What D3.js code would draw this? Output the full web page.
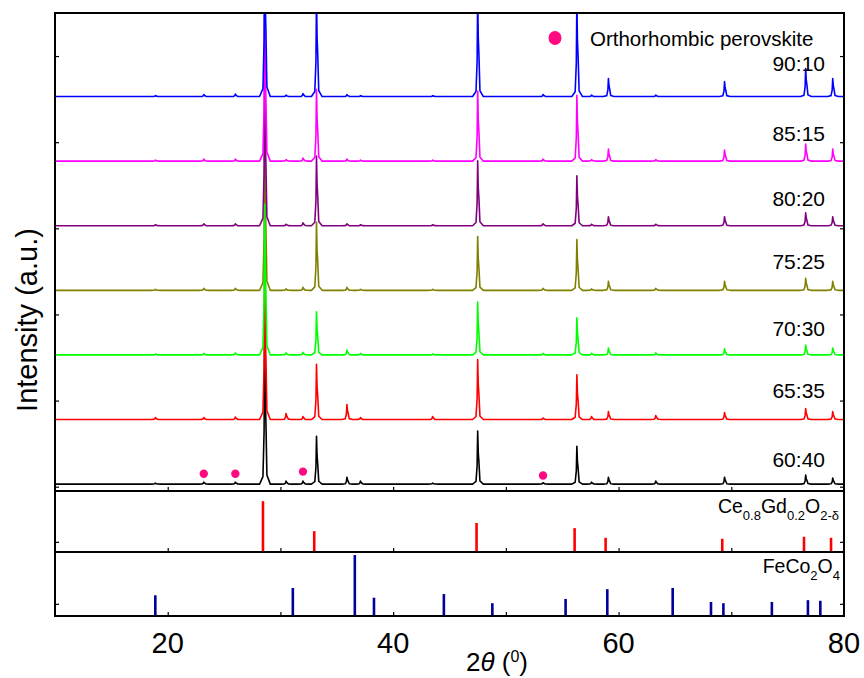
<!DOCTYPE html>
<html lang="en">
<head>
<meta charset="UTF-8">
<title>XRD patterns</title>
<script src="https://d3js.org/d3.v7.min.js"></script>
<style>
  body { margin: 0; background: #fff; }
  svg { display: block; font-family: "Liberation Sans", Arial, sans-serif; }
</style>
</head>
<body>
<div id="chart"></div>
<script>
// samples, bottom trace first
const samples = ["60:40", "65:35", "70:30", "75:25", "80:20", "85:15", "90:10"];
const colors  = ["#000000", "#ff0000", "#00ff00", "#808000", "#800080", "#ff00ff", "#0000ff"];
const offsets = [60, 1560, 3060, 4560, 6060, 7560, 9060];

// peak positions (2theta) shared by all samples
const peakPos = [18.9, 23.2, 26.0, 28.6, 30.5, 32.0, 33.2, 35.9, 37.1, 43.5, 47.5, 53.3, 56.3, 57.6, 59.1, 63.3, 69.4, 76.6, 79.0];
// peak heights per sample (a.u.), same order as peakPos
const h6040 = [23, 46, 46, 3500, 70, 70, 1110, 160, 70, 23, 1230, 35, 880, 46, 160, 70, 160, 210, 140];
const h6535 = [46, 46, 58, 3500, 140, 70, 1280, 350, 46, 70, 1390, 35, 1040, 70, 185, 93, 160, 255, 185];
const h7030 = [23, 35, 46, 3500, 46, 58, 1000, 115, 35, 23, 1230, 35, 860, 35, 160, 46, 140, 230, 160];
const h7525 = [23, 46, 46, 3500, 35, 70, 1580, 70, 23, 23, 1250, 46, 1180, 35, 210, 46, 210, 280, 210];
const h8020 = [23, 46, 46, 3500, 35, 70, 1620, 46, 23, 23, 1510, 46, 1160, 35, 210, 35, 210, 300, 210];
const h8515 = [23, 46, 46, 3500, 35, 70, 1670, 46, 23, 23, 1620, 46, 1530, 35, 280, 35, 255, 395, 280];
const h9010 = [23, 46, 58, 3700, 35, 70, 2320, 46, 23, 23, 2320, 46, 2200, 35, 420, 35, 350, 650, 420];
const heights = [h6040, h6535, h7030, h7525, h8020, h8515, h9010];

// orthorhombic perovskite markers on the 60:40 pattern
const markPos = [23.2, 26.0, 32.0, 53.3];
const markInt = [300, 300, 350, 260];

// reference patterns
const cgoPos = [28.45, 33.0, 47.4, 56.1, 58.85, 69.2, 76.45, 78.85];
const cgoInt = [100, 41, 57, 47, 28, 26, 30, 28];
const fcoPos = [18.9, 31.1, 36.6, 38.3, 44.5, 48.8, 55.3, 59.0, 64.8, 68.2, 69.3, 73.6, 76.8, 77.9];
const fcoInt = [34, 46, 100, 30, 36, 21, 28, 44, 46, 23, 21, 23, 26, 25];

const xTicks = [20, 40, 60, 80];

const W = 864, H = 678;
const pLeft = 55, pRight = 844, pTop = 13, mainBottom = 491, midBottom = 552, botBottom = 616;

const svg = d3.select("#chart").append("svg")
    .attr("width", W)
    .attr("height", H);

const x = d3.scaleLinear().domain([10, 80]).range([pLeft, pRight]);
const yMain = d3.scaleLinear().domain([-100, 11000]).range([mainBottom, pTop]);
const yMid = d3.scaleLinear().domain([0, 120]).range([midBottom, mainBottom]);
const yBot = d3.scaleLinear().domain([0, 105]).range([botBottom, midBottom]);

svg.append("clipPath").attr("id", "clip")
  .append("rect")
    .attr("x", pLeft).attr("y", pTop)
    .attr("width", pRight - pLeft).attr("height", mainBottom - pTop);

// simple peak outline: foot, flank, apex, K-alpha2 shoulder
const peakShape = [[-0.45, 0], [-0.15, 0.05], [-0.05, 0.35], [0, 1], [0.05, 0.6], [0.11, 0.42], [0.2, 0.06], [0.5, 0]];

function tracePoints(i) {
    const off = offsets[i];
    const pts = [[10, off]];
    peakPos.forEach((p, j) => {
        peakShape.forEach(s => pts.push([p + s[0], off + heights[i][j] * s[1]]));
    });
    pts.push([80, off]);
    return pts;
}

const line = d3.line()
    .x(d => x(d[0]))
    .y(d => yMain(d[1]));

// green trace sits on top in the original
const drawOrder = [0, 1, 3, 4, 5, 6, 2];
const g = svg.append("g").attr("clip-path", "url(#clip)");
drawOrder.forEach(i => {
    g.append("path")
        .attr("d", line(tracePoints(i)))
        .attr("fill", "none")
        .attr("stroke", colors[i])
        .attr("stroke-width", 1.6)
        .attr("stroke-linejoin", "round");
});

// sample labels
const labelLift = [17, 22, 19, 21, 19.5, 20, 26];
svg.selectAll(".slabel")
    .data(samples)
    .enter().append("text")
    .attr("class", "slabel")
    .attr("x", 825)
    .attr("y", (d, i) => yMain(offsets[i]) - labelLift[i])
    .attr("text-anchor", "end")
    .attr("font-size", 21)
    .text(d => d);

// perovskite markers
svg.selectAll(".mark")
    .data(markPos)
    .enter().append("circle")
    .attr("cx", d => x(d))
    .attr("cy", (d, i) => yMain(markInt[i]))
    .attr("r", 4.2)
    .attr("fill", "#ff0a80");

// legend
svg.append("ellipse")
    .attr("cx", 555).attr("cy", 38)
    .attr("rx", 6.5).attr("ry", 7)
    .attr("fill", "#ff0a80");
svg.append("text")
    .attr("x", 590).attr("y", 46)
    .attr("font-size", 20.5)
    .text("Orthorhombic perovskite");

// reference sticks
svg.selectAll(".cgo")
    .data(cgoPos)
    .enter().append("line")
    .attr("x1", d => x(d)).attr("x2", d => x(d))
    .attr("y1", yMid(0))
    .attr("y2", (d, i) => yMid(cgoInt[i]))
    .attr("stroke", "#ff0000")
    .attr("stroke-width", 2.6);

svg.selectAll(".fco")
    .data(fcoPos)
    .enter().append("line")
    .attr("x1", d => x(d)).attr("x2", d => x(d))
    .attr("y1", yBot(0))
    .attr("y2", (d, i) => yBot(fcoInt[i]))
    .attr("stroke", "#00009c")
    .attr("stroke-width", 2.6);

// phase labels
const cgo = svg.append("text")
    .attr("x", 839).attr("y", 513)
    .attr("text-anchor", "end")
    .attr("font-size", 19.5);
cgo.append("tspan").text("Ce");
cgo.append("tspan").attr("dy", 7).attr("font-size", 13).text("0.8");
cgo.append("tspan").attr("dy", -7).text("Gd");
cgo.append("tspan").attr("dy", 7).attr("font-size", 13).text("0.2");
cgo.append("tspan").attr("dy", -7).text("O");
cgo.append("tspan").attr("dy", 7).attr("font-size", 13).text("2-δ");

const fco = svg.append("text")
    .attr("x", 840).attr("y", 573)
    .attr("text-anchor", "end")
    .attr("font-size", 19.5);
fco.append("tspan").text("FeCo");
fco.append("tspan").attr("dy", 7).attr("font-size", 13).text("2");
fco.append("tspan").attr("dy", -7).text("O");
fco.append("tspan").attr("dy", 7).attr("font-size", 13).text("4");

// ticks
const tickLen = 4;
function xTickMarks(yPos) {
    svg.append("g")
        .attr("transform", `translate(0,${yPos})`)
        .call(d3.axisBottom(x).tickValues(d3.range(20, 80, 10)).tickSize(-tickLen).tickFormat(""))
        .call(a => a.select(".domain").remove())
        .call(a => a.selectAll("line").attr("stroke-width", 1.2));
}
xTickMarks(mainBottom);
xTickMarks(midBottom);
xTickMarks(botBottom);

function yTickMarks(scale, values) {
    svg.append("g")
        .attr("transform", `translate(${pLeft},0)`)
        .call(d3.axisLeft(scale).tickValues(values).tickSize(-tickLen).tickFormat(""))
        .call(a => a.select(".domain").remove())
        .call(a => a.selectAll("line").attr("stroke-width", 1.2));
    svg.append("g")
        .attr("transform", `translate(${pRight},0)`)
        .call(d3.axisRight(scale).tickValues(values).tickSize(-tickLen).tickFormat(""))
        .call(a => a.select(".domain").remove())
        .call(a => a.selectAll("line").attr("stroke-width", 1.2));
}
yTickMarks(yMain, d3.range(0, 11000, 2000));
yTickMarks(yMid, [20]);
yTickMarks(yBot, [20]);

// x tick labels
svg.selectAll(".xl")
    .data(xTicks)
    .enter().append("text")
    .attr("x", d => x(d))
    .attr("y", 653)
    .attr("text-anchor", "middle")
    .attr("font-size", 29)
    .text(d => d);

// panel frames
[[pTop, mainBottom], [mainBottom, midBottom], [midBottom, botBottom]].forEach(p => {
    svg.append("rect")
        .attr("x", pLeft).attr("y", p[0])
        .attr("width", pRight - pLeft).attr("height", p[1] - p[0])
        .attr("fill", "none")
        .attr("stroke", "#000")
        .attr("stroke-width", 2);
});

// axis titles
const xt = svg.append("text")
    .attr("x", 497).attr("y", 671)
    .attr("text-anchor", "middle")
    .attr("font-size", 26);
xt.append("tspan").text("2");
xt.append("tspan").attr("font-style", "italic").text("θ");
xt.append("tspan").text(" (");
xt.append("tspan").attr("dy", -9).attr("font-size", 16).text("0");
xt.append("tspan").attr("dy", 9).text(")");

svg.append("text")
    .attr("transform", "translate(37,320) rotate(-90)")
    .attr("text-anchor", "middle")
    .attr("font-size", 29)
    .text("Intensity (a.u.)");
</script>
</body>
</html>
